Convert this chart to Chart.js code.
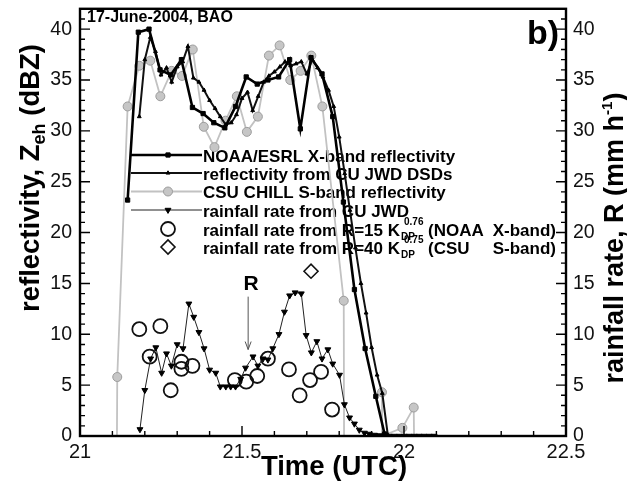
<!DOCTYPE html>
<html>
<head>
<meta charset="utf-8">
<title>Reflectivity and rainfall rate, 17 June 2004</title>
<script src="https://cdn.jsdelivr.net/npm/chart.js@4.4.1/dist/chart.umd.min.js"></script>
<style>
    html, body { margin: 0; padding: 0; background: #fff; }
    canvas { display: block; }
</style>
</head>
<body>
<canvas id="myChart" width="627" height="482"></canvas>
<script>
// time in hours UTC, reflectivity in dBZ, rain rate in mm/h

// NOAA/ESRL X-band reflectivity (2 min samples)
const noaaTime = [21.147, 21.180, 21.213, 21.247, 21.280, 21.313, 21.347, 21.380, 21.413, 21.447, 21.480, 21.513, 21.547,
    21.580, 21.613, 21.647, 21.680, 21.713, 21.747, 21.780, 21.813, 21.847, 21.880, 21.913, 21.940];
const noaaZ = [23.2, 39.7, 40.0, 36.0, 35.5, 37.0, 32.3, 31.7, 30.8, 30.3, 32.4, 35.3, 34.6,
    35.0, 35.3, 37.0, 30.2, 37.2, 35.6, 31.4, 23.0, 14.4, 8.6, 3.9, 0.2];

// reflectivity computed from the CU JWD DSDs (1 min samples)
const jwdTime = [21.183, 21.200, 21.217, 21.233, 21.250, 21.267, 21.283, 21.300, 21.317, 21.333, 21.350, 21.367,
    21.383, 21.400, 21.417, 21.433, 21.450, 21.467, 21.483, 21.500, 21.517, 21.533, 21.550, 21.567, 21.583, 21.600,
    21.617, 21.633, 21.650, 21.667, 21.683, 21.700, 21.717, 21.733, 21.750, 21.767, 21.783, 21.800, 21.817, 21.833,
    21.850, 21.867, 21.883, 21.900, 21.917, 21.933, 21.950];
const jwdZ = [31.4, 37.0, 39.2, 37.8, 35.5, 36.2, 34.8, 36.3, 36.8, 38.3, 35.2, 34.8,
    34.0, 33.0, 32.2, 31.4, 30.6, 30.8, 31.6, 33.2, 33.8, 32.0, 33.4, 34.8, 35.4, 35.8,
    36.3, 36.8, 36.4, 36.6, 36.8, 35.6, 37.0, 36.2, 35.3, 34.0, 32.4, 29.4, 25.8, 22.2,
    18.5, 15.0, 12.1, 8.7, 6.0, 4.2, 0.1];

// CSU CHILL S-band reflectivity (zeros are where the trace drops to the axis)
const csuTime = [21.114, 21.115, 21.147, 21.183, 21.217, 21.248, 21.283, 21.315, 21.348, 21.382, 21.415, 21.449,
    21.484, 21.515, 21.549, 21.583, 21.616, 21.649, 21.681, 21.714, 21.748, 21.814, 21.815, 21.931, 21.932, 21.933,
    21.995, 22.030, 22.031];
const csuZ = [0, 5.8, 32.4, 36.4, 36.9, 33.4, 35.9, 35.4, 38.0, 30.4, 28.4, 31.0,
    33.4, 29.9, 31.4, 37.4, 38.4, 35.0, 35.9, 37.4, 32.4, 13.3, 0, 0, 4.3, 0,
    0.8, 2.8, 0];

// rainfall rate from the CU JWD disdrometer
const rainTime = [21.185, 21.200, 21.218, 21.234, 21.252, 21.267, 21.282, 21.300, 21.318, 21.336, 21.351, 21.367,
    21.383, 21.400, 21.419, 21.433, 21.450, 21.465, 21.480, 21.496, 21.511, 21.534, 21.549, 21.565, 21.580, 21.595,
    21.614, 21.631, 21.647, 21.664, 21.683, 21.698, 21.714, 21.731, 21.747, 21.765, 21.780, 21.801, 21.816, 21.832,
    21.847, 21.862, 21.878, 21.893, 21.909, 21.924, 21.940, 21.955, 21.970, 21.986, 22.001, 22.016, 22.032, 22.047,
    22.062, 22.078, 22.093];
const rainR = [0.65, 4.5, 7.6, 8.7, 6.2, 8.1, 6.9, 9.0, 8.6, 13.0, 11.7, 10.2,
    8.6, 6.5, 6.2, 4.85, 4.85, 4.85, 4.85, 5.6, 6.7, 7.8, 6.9, 7.6, 7.5, 8.6,
    10.0, 12.2, 13.8, 14.1, 14.0, 9.9, 8.2, 9.3, 7.6, 8.5, 7.1, 6.0, 3.1, 1.8,
    1.2, 0.6, 0.3, 0.2, 0.1, 0.05, 0, 0, 0, 0, 0, 0, 0, 0,
    0, 0, 0];

// rainfall rate from R = 15 Kdp^0.76 (NOAA X-band)
const kdpXTime = [21.183, 21.215, 21.248, 21.280, 21.313, 21.313, 21.347, 21.478, 21.513, 21.547, 21.580, 21.645,
    21.678, 21.710, 21.744, 21.778];
const kdpXR = [10.5, 7.8, 10.8, 4.5, 7.3, 6.6, 6.9, 5.5, 5.35, 5.9, 7.6, 6.55,
    4.0, 5.5, 6.3, 2.6];

// rainfall rate from R = 40 Kdp^0.75 (CSU S-band)
const kdpSTime = [21.713];
const kdpSR = [16.2];

// tick labels
const timeTicks = [21, 21.5, 22, 22.5];
const valueTicks = [0, 5, 10, 15, 20, 25, 30, 35, 40];

document.addEventListener('DOMContentLoaded', () => {
    const FONT = '"Liberation Sans", Arial, Helvetica, sans-serif';
    const ctxCanvas = document.getElementById('myChart').getContext('2d');
    const CSU_RADIUS = 4.5;

    //pair up the time and value arrays for the linear x axis
    function toPoints(times, values) {
        return times.map((t, i) => ({ x: t, y: values[i] }));
    }

    //draws pieces of text side by side, each with its own size and baseline shift (for sub/superscripts)
    function drawRich(ctx, parts, cx, cy) {
        let total = 0;
        parts.forEach(p => {
            ctx.font = `bold ${p[1]}px ${FONT}`;
            total += ctx.measureText(p[0]).width;
        });
        let x = cx - total / 2;
        parts.forEach(p => {
            ctx.font = `bold ${p[1]}px ${FONT}`;
            ctx.fillText(p[0], x, cy + p[2]);
            x += ctx.measureText(p[0]).width;
        });
    }

    function drawMarker(ctx, ds, x, y) {
        const r = typeof ds.pointRadius === 'function' ? CSU_RADIUS : ds.pointRadius;
        ctx.save();
        ctx.fillStyle = ds.pointBackgroundColor;
        ctx.strokeStyle = ds.pointBorderColor;
        ctx.lineWidth = ds.pointBorderWidth;
        Chart.helpers.drawPoint(ctx, {
            pointStyle: ds.pointStyle,
            radius: r,
            rotation: ds.pointRotation || 0,
            borderWidth: ds.pointBorderWidth
        }, x, y);
        ctx.restore();
    }

    //legend sits inside the plot, under the data lines
    function drawLegend(chart) {
        const ctx = chart.ctx;
        const rows = [155, 173, 191.5, 210, 229, 247];
        const kdpText = {
            4: { coef: '15', expo: '0.76', left: '(NOAA', right: 'X-band)' },
            5: { coef: '40', expo: '0.75', left: '(CSU', right: 'S-band)' }
        };
        ctx.save();
        chart.data.datasets.forEach((ds, i) => {
            const y = rows[i];
            if (ds.showLine !== false) {
                ctx.strokeStyle = ds.borderColor;
                ctx.lineWidth = ds.borderWidth;
                ctx.beginPath();
                ctx.moveTo(131, y);
                ctx.lineTo(202, y);
                ctx.stroke();
            }
            drawMarker(ctx, ds, 168, y);

            ctx.fillStyle = '#000';
            ctx.textAlign = 'left';
            ctx.textBaseline = 'alphabetic';
            ctx.font = `bold 17px ${FONT}`;
            const base = y + 6.5;
            if (kdpText[i]) {
                const k = kdpText[i];
                const head = `rainfall rate from R=${k.coef} K`;
                ctx.fillText(head, 203, base);
                const sx = 203 + ctx.measureText(head).width + 1;
                ctx.font = `bold 10px ${FONT}`;
                ctx.fillText('DP', sx, base + 4);
                ctx.fillText(k.expo, sx + 3, base - 11);
                ctx.font = `bold 17px ${FONT}`;
                ctx.fillText(k.left, 428, base);
                ctx.textAlign = 'right';
                ctx.fillText(k.right, 556, base);
            } else {
                ctx.fillText(ds.label, 203, base);
            }
        });
        ctx.restore();
    }

    //frame plus inward major/minor ticks
    function drawFrame(chart) {
        const { ctx, chartArea: a, scales } = chart;
        const xs = scales.x, ys = scales.y;
        ctx.save();
        ctx.strokeStyle = '#000';
        ctx.lineWidth = 1.4;
        ctx.beginPath();
        for (let v = 1; v < 42; v++) {
            const py = ys.getPixelForValue(v);
            const len = v % 5 === 0 ? 10 : 5;
            ctx.moveTo(a.left, py); ctx.lineTo(a.left + len, py);
            ctx.moveTo(a.right, py); ctx.lineTo(a.right - len, py);
        }
        for (let i = 1; i < 15; i++) {
            const px = xs.getPixelForValue(21 + i / 10);
            const len = i % 5 === 0 ? 10 : 5;
            ctx.moveTo(px, a.bottom); ctx.lineTo(px, a.bottom - len);
        }
        ctx.stroke();
        ctx.lineWidth = 2.4;
        ctx.strokeRect(a.left, a.top, a.right - a.left, a.bottom - a.top);
        ctx.restore();
    }

    function drawTitles(chart) {
        const ctx = chart.ctx;
        ctx.save();
        ctx.fillStyle = '#000';
        ctx.textBaseline = 'alphabetic';
        ctx.textAlign = 'left';

        ctx.save();
        ctx.translate(39, 178);
        ctx.rotate(-Math.PI / 2);
        drawRich(ctx, [['reflectivity, Z', 27.5, 0], ['eh', 18, 6], [' (dBZ)', 27.5, 0]], 0, 0);
        ctx.restore();

        ctx.save();
        ctx.translate(623, 238);
        ctx.rotate(-Math.PI / 2);
        drawRich(ctx, [['rainfall rate, R (mm h', 27, 0], ['-1', 15, -11], [')', 27, 0]], 0, 0);
        ctx.restore();

        drawRich(ctx, [['Time (UTC)', 27.5, 0]], 334, 475);
        ctx.restore();
    }

    function drawNotes(chart) {
        const { ctx, scales } = chart;
        const xs = scales.x, ys = scales.y2;
        ctx.save();
        ctx.fillStyle = '#000';
        ctx.textBaseline = 'alphabetic';

        ctx.textAlign = 'left';
        ctx.font = `bold 16px ${FONT}`;
        ctx.fillText('17-June-2004, BAO', 87, 22);

        ctx.textAlign = 'right';
        ctx.font = `bold 34px ${FONT}`;
        ctx.fillText('b)', 559, 44);

        //"R" marker with the arrow pointing at the JWD rain curve
        ctx.textAlign = 'center';
        ctx.font = `bold 21px ${FONT}`;
        ctx.fillText('R', xs.getPixelForValue(21.528), ys.getPixelForValue(14.4));

        const ax = xs.getPixelForValue(21.519);
        const top = ys.getPixelForValue(13.7);
        const tip = ys.getPixelForValue(8.5);
        ctx.strokeStyle = '#555';
        ctx.lineWidth = 1;
        ctx.beginPath();
        ctx.moveTo(ax, top); ctx.lineTo(ax, tip);
        ctx.moveTo(ax - 3, tip - 8); ctx.lineTo(ax, tip); ctx.lineTo(ax + 3, tip - 8);
        ctx.stroke();
        ctx.restore();
    }

    const decorPlugin = {
        id: 'decor',
        beforeDatasetsDraw(chart) {
            drawLegend(chart);
        },
        afterDatasetsDraw(chart) {
            drawFrame(chart);
            drawTitles(chart);
            drawNotes(chart);
        }
    };

    const tickFont = size => ({ family: FONT, size: size });

    new Chart(ctxCanvas, {
        type: 'line',
        data: {
            datasets: [{
                label: 'NOAA/ESRL X-band reflectivity',
                data: toPoints(noaaTime, noaaZ),
                yAxisID: 'y',
                borderColor: '#000',
                borderWidth: 2.6,
                pointStyle: 'rect',
                pointRadius: 3,
                pointBackgroundColor: '#000',
                pointBorderColor: '#000',
                pointBorderWidth: 1,
                order: 1
            }, {
                label: 'reflectivity from CU JWD DSDs',
                data: toPoints(jwdTime, jwdZ),
                yAxisID: 'y',
                borderColor: '#111',
                borderWidth: 2,
                pointStyle: 'triangle',
                pointRadius: 2.2,
                pointBackgroundColor: '#000',
                pointBorderColor: '#000',
                pointBorderWidth: 1,
                order: 2
            }, {
                label: 'CSU CHILL S-band reflectivity',
                data: toPoints(csuTime, csuZ),
                yAxisID: 'y',
                borderColor: '#c2c2c2',
                borderWidth: 1.8,
                pointStyle: 'circle',
                //no marker where the trace just drops to the axis
                pointRadius: c => (c.raw && c.raw.y === 0 ? 0 : CSU_RADIUS),
                pointBackgroundColor: '#c6c6c6',
                pointBorderColor: '#9c9c9c',
                pointBorderWidth: 1,
                order: 6
            }, {
                label: 'rainfall rate from CU JWD',
                data: toPoints(rainTime, rainR),
                yAxisID: 'y2',
                borderColor: '#222',
                borderWidth: 1,
                pointStyle: 'triangle',
                pointRotation: 180,
                pointRadius: 3.4,
                pointBackgroundColor: '#000',
                pointBorderColor: '#000',
                pointBorderWidth: 1,
                order: 3
            }, {
                label: 'rainfall rate from R=15 Kdp^0.76 (NOAA X-band)',
                data: toPoints(kdpXTime, kdpXR),
                yAxisID: 'y2',
                showLine: false,
                borderColor: '#000',
                borderWidth: 1.8,
                pointStyle: 'circle',
                pointRadius: 7,
                pointBackgroundColor: 'rgba(0,0,0,0)',
                pointBorderColor: '#111',
                pointBorderWidth: 1.8,
                order: 4
            }, {
                label: 'rainfall rate from R=40 Kdp^0.75 (CSU S-band)',
                data: toPoints(kdpSTime, kdpSR),
                yAxisID: 'y2',
                showLine: false,
                borderColor: '#000',
                borderWidth: 1.6,
                pointStyle: 'rectRot',
                pointRadius: 7,
                pointBackgroundColor: 'rgba(0,0,0,0)',
                pointBorderColor: '#111',
                pointBorderWidth: 1.6,
                order: 5
            }]
        },
        options: {
            responsive: false,
            animation: false,
            events: [],
            elements: { line: { tension: 0 } },
            layout: { padding: { top: 7, left: 0, right: 0, bottom: 0 } },
            plugins: {
                legend: { display: false },
                tooltip: { enabled: false }
            },
            scales: {
                x: {
                    type: 'linear',
                    position: 'bottom',
                    min: 21,
                    max: 22.5,
                    afterBuildTicks: axis => { axis.ticks = timeTicks.map(v => ({ value: v })); },
                    afterFit: axis => { axis.height = 46; axis.paddingLeft = 0; axis.paddingRight = 0; },
                    grid: { display: false, drawTicks: false },
                    border: { display: false },
                    ticks: {
                        padding: 4,
                        maxRotation: 0,
                        autoSkip: false,
                        color: '#111',
                        font: tickFont(20),
                        callback: v => String(v)
                    }
                },
                y: {
                    type: 'linear',
                    position: 'left',
                    min: 0,
                    max: 42,
                    afterBuildTicks: axis => { axis.ticks = valueTicks.map(v => ({ value: v })); },
                    afterFit: axis => { axis.width = 80; axis.paddingTop = 0; axis.paddingBottom = 0; },
                    grid: { display: false, drawTicks: false },
                    border: { display: false },
                    ticks: { padding: 8, color: '#111', font: tickFont(19.5) }
                },
                y2: {
                    type: 'linear',
                    position: 'right',
                    min: 0,
                    max: 42,
                    afterBuildTicks: axis => { axis.ticks = valueTicks.map(v => ({ value: v })); },
                    afterFit: axis => { axis.width = 61; axis.paddingTop = 0; axis.paddingBottom = 0; },
                    grid: { display: false, drawTicks: false },
                    border: { display: false },
                    ticks: { padding: 7, color: '#111', font: tickFont(19.5) }
                }
            }
        },
        plugins: [decorPlugin]
    });
});
</script>
</body>
</html>
